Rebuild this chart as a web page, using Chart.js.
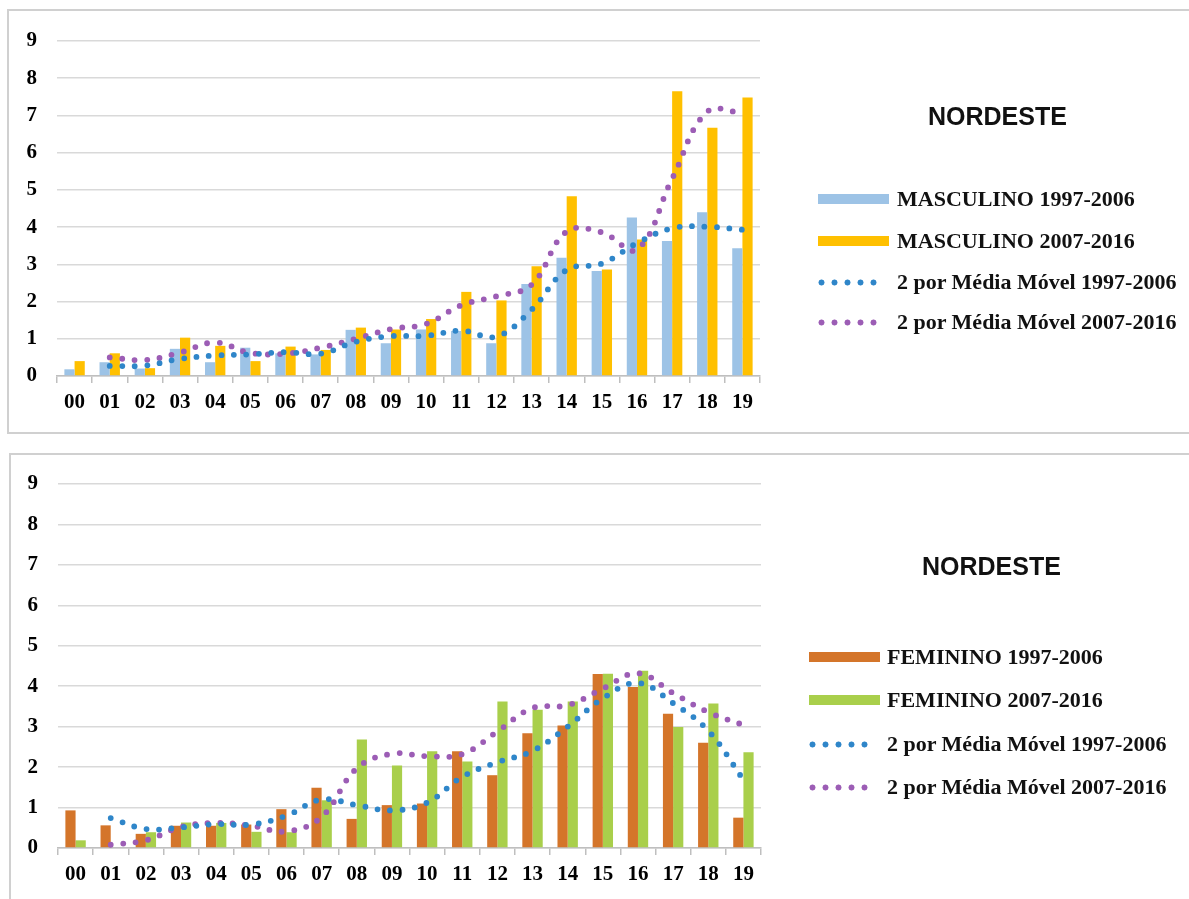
<!DOCTYPE html>
<html>
<head>
<meta charset="utf-8">
<script src="https://cdn.jsdelivr.net/npm/chart.js"></script>
<style>
  body { margin: 0; width: 1189px; height: 899px; background: #fff; position: relative; overflow: hidden; }
  .painel { position: absolute; border: 2px solid #d0d0d0; box-sizing: border-box; }
  canvas { position: absolute; left: 0; }
  .titulo { position: absolute; font: bold 25px "Liberation Sans", Arial, sans-serif; color: #111; }
  .item { position: absolute; font: bold 22px "Liberation Serif", "Times New Roman", serif; color: #111; line-height: 26px; white-space: nowrap; }
  .barra { position: absolute; width: 71px; height: 10px; }
  .pontos { position: absolute; width: 68px; height: 7px; background-size: 13px 7px; background-repeat: repeat-x; }
</style>
</head>
<body>
<div class="painel" style="left:7px; top:9px; width:1200px; height:425px;"></div>
<div class="painel" style="left:9px; top:453px; width:1200px; height:460px;"></div>

<canvas id="graficoMasc" width="1189" height="440" style="top:0px;"></canvas>
<canvas id="graficoFem" width="1189" height="449" style="top:450px;"></canvas>

<div id="legendaMasc"></div>
<div id="legendaFem"></div>

<script>
const anos = ['00', '01', '02', '03', '04', '05', '06', '07', '08', '09',
              '10', '11', '12', '13', '14', '15', '16', '17', '18', '19'];
const ticksY = [0, 1, 2, 3, 4, 5, 6, 7, 8, 9];

const mascAntes = [0.18, 0.37, 0.20, 0.73, 0.37, 0.76, 0.61, 0.58, 1.24, 0.88,
                   1.25, 1.21, 0.88, 2.47, 3.18, 2.82, 4.26, 3.63, 4.40, 3.43];
const mascDepois = [0.40, 0.61, 0.21, 1.03, 0.81, 0.40, 0.79, 0.70, 1.30, 1.25,
                    1.53, 2.26, 2.03, 2.95, 4.83, 2.86, 3.67, 7.65, 6.67, 7.48];
const mascMediaAntes = [null, 0.27, 0.28, 0.46, 0.55, 0.58, 0.64, 0.60, 0.92, 1.07,
                        1.08, 1.22, 1.06, 1.78, 2.85, 3.02, 3.57, 3.97, 4.01, 3.93];
const mascMediaDepois = [null, 0.50, 0.43, 0.63, 0.90, 0.62, 0.60, 0.76, 1.00, 1.26,
                         1.40, 1.90, 2.14, 2.45, 3.88, 3.86, 3.40, 5.30, 7.10, 7.07];

const femAntes = [0.93, 0.56, 0.35, 0.55, 0.55, 0.58, 0.96, 1.49, 0.72, 1.06,
                  1.10, 2.39, 1.80, 2.84, 3.03, 4.30, 3.98, 3.32, 2.60, 0.75];
const femDepois = [0.19, 0, 0.39, 0.63, 0.62, 0.40, 0.39, 1.18, 2.68, 2.04,
                   2.39, 2.14, 3.62, 3.42, 3.62, 4.31, 4.38, 2.99, 3.57, 2.37];
const femMediaAntes = [null, 0.74, 0.47, 0.51, 0.59, 0.58, 0.80, 1.20, 1.06, 0.93,
                       1.12, 1.76, 2.12, 2.40, 3.00, 3.70, 4.08, 3.58, 2.90, 1.69];
const femMediaDepois = [null, 0.08, 0.19, 0.52, 0.62, 0.55, 0.41, 0.77, 1.97, 2.33,
                        2.27, 2.32, 2.88, 3.46, 3.53, 3.94, 4.32, 3.83, 3.36, 3.04];

const corAzulClaro = '#9DC3E6';
const corAmarelo = '#FFC000';
const corLaranja = '#D4752A';
const corVerde = '#A9CF4B';
const corAzulMedia = '#2F86C9';
const corRoxoMedia = '#9C5DB5';

function linhaMedia(label, dados, cor) {
    return {
        type: 'line',
        label: label,
        data: dados,
        borderColor: cor,
        backgroundColor: cor,
        borderWidth: 5.8,
        borderDash: [0, 12.5],
        borderCapStyle: 'round',
        pointRadius: 0,
        tension: 0.4,
        fill: false,
        order: 0
    };
}

function barra(label, dados, cor) {
    return {
        type: 'bar',
        label: label,
        data: dados,
        backgroundColor: cor,
        borderWidth: 0,
        categoryPercentage: 0.58,
        barPercentage: 1.0,
        order: 1
    };
}

function criarGrafico(id, datasets, pad) {
    const ctx = document.getElementById(id).getContext('2d');
    return new Chart(ctx, {
        type: 'bar',
        data: { labels: anos, datasets: datasets },
        options: {
            responsive: false,
            animation: false,
            layout: { padding: { left: 0, top: pad.top, right: pad.right, bottom: 0 } },
            plugins: { legend: { display: false }, tooltip: { enabled: false } },
            scales: {
                x: {
                    grid: { display: true, drawOnChartArea: false, drawTicks: true, tickLength: 7, color: '#bfbfbf', lineWidth: 1.5, offset: true },
                    border: { display: true, color: '#bfbfbf', width: 1.5 },
                    ticks: { color: '#000', padding: 7, maxRotation: 0, font: { family: 'Liberation Serif', size: 21, weight: 'bold' } },
                    afterFit: function (s) { s.height = pad.alturaX; }
                },
                y: {
                    min: ticksY[0],
                    max: ticksY[ticksY.length - 1],
                    afterBuildTicks: function (s) { s.ticks = ticksY.map(v => ({ value: v })); },
                    grid: { color: '#d9d9d9', lineWidth: 1.5, drawTicks: false },
                    border: { display: false },
                    ticks: { color: '#000', padding: 20, font: { family: 'Liberation Serif', size: 21, weight: 'bold' } },
                    afterFit: function (s) { s.width = pad.left; }
                }
            }
        }
    });
}

criarGrafico('graficoMasc', [
    linhaMedia('2 por Média Móvel 1997-2006', mascMediaAntes, corAzulMedia),
    linhaMedia('2 por Média Móvel 2007-2016', mascMediaDepois, corRoxoMedia),
    barra('MASCULINO 1997-2006', mascAntes, corAzulClaro),
    barra('MASCULINO 2007-2016', mascDepois, corAmarelo)
], { top: 41, right: 429, left: 57, alturaX: 64 });

criarGrafico('graficoFem', [
    linhaMedia('2 por Média Móvel 1997-2006', femMediaAntes, corAzulMedia),
    linhaMedia('2 por Média Móvel 2007-2016', femMediaDepois, corRoxoMedia),
    barra('FEMININO 1997-2006', femAntes, corLaranja),
    barra('FEMININO 2007-2016', femDepois, corVerde)
], { top: 34, right: 428, left: 58, alturaX: 51 });

function pontosCss(cor) {
    return 'radial-gradient(circle at 6.5px 3.5px, ' + cor + ' 2.7px, transparent 3.3px)';
}

function montarLegenda(idDiv, tituloX, tituloY, marcaX, textoX, linhas, itens) {
    const div = document.getElementById(idDiv);
    let html = '<div class="titulo" style="left:' + tituloX + 'px; top:' + (tituloY - 15) + 'px;">NORDESTE</div>';
    itens.forEach(function (it, i) {
        const cy = linhas[i];
        if (it.tipo === 'barra') {
            html += '<div class="barra" style="left:' + marcaX + 'px; top:' + (cy - 5) + 'px; background:' + it.cor + ';"></div>';
        } else {
            html += '<div class="pontos" style="left:' + (marcaX - 3) + 'px; top:' + (cy - 3) + 'px; background-image:' + pontosCss(it.cor) + ';"></div>';
        }
        html += '<div class="item" style="left:' + textoX + 'px; top:' + (cy - 13) + 'px;">' + it.texto + '</div>';
    });
    div.innerHTML = html;
}

montarLegenda('legendaMasc', 928, 117, 818, 897, [199, 241, 282, 322], [
    { tipo: 'barra', cor: corAzulClaro, texto: 'MASCULINO 1997-2006' },
    { tipo: 'barra', cor: corAmarelo, texto: 'MASCULINO 2007-2016' },
    { tipo: 'pontos', cor: corAzulMedia, texto: '2 por Média Móvel 1997-2006' },
    { tipo: 'pontos', cor: corRoxoMedia, texto: '2 por Média Móvel 2007-2016' }
]);

montarLegenda('legendaFem', 922, 567, 809, 887, [657, 700, 744, 787], [
    { tipo: 'barra', cor: corLaranja, texto: 'FEMININO 1997-2006' },
    { tipo: 'barra', cor: corVerde, texto: 'FEMININO 2007-2016' },
    { tipo: 'pontos', cor: corAzulMedia, texto: '2 por Média Móvel 1997-2006' },
    { tipo: 'pontos', cor: corRoxoMedia, texto: '2 por Média Móvel 2007-2016' }
]);
</script>
</body>
</html>
